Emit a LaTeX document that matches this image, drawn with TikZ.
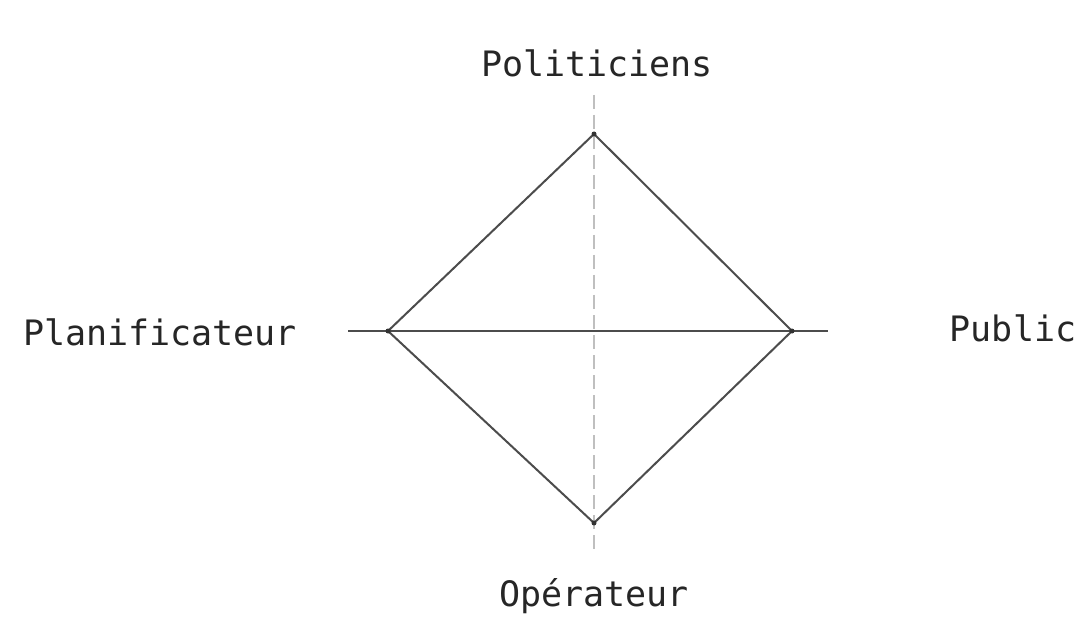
\documentclass[tikz,border=0pt]{standalone}
\usepackage{fontspec}
\setmonofont{DejaVu Sans Mono}
\begin{document}
\begin{tikzpicture}[x=1pt,y=-1pt,
  lbl/.style={font=\ttfamily\fontsize{35}{40}\selectfont, text=black!85, inner sep=0pt, anchor=base},
  edge/.style={draw=black!70, line width=2pt},
  axis/.style={draw=black!25, line width=1.4pt, dash pattern=on 14pt off 6pt}]
\useasboundingbox (0,0) rectangle (1083,617);
\fill[white] (0,0) rectangle (1083,617);
\coordinate (T) at (594,134);
\coordinate (B) at (594,523);
\coordinate (L) at (388,331);
\coordinate (R) at (792,331);
\coordinate (axT) at (594,95);
\coordinate (axB) at (594,552);
\coordinate (axL) at (348,331);
\coordinate (axR) at (828,331);
\node[lbl] (pol) at (597,77) {Politiciens};
\node[lbl] (pla) at (160,345) {Planificateur};
\node[lbl] (pub) at (1013,341) {Public};
\node[lbl] (ope) at (594,606) {Opérateur};
\draw[axis] (axT) -- (axB);
\draw[edge] (axL) -- (axR);
\draw[edge] (T) -- (R) -- (B) -- (L) -- cycle;
\fill[black!80] (T) circle (2.5pt) (B) circle (2.5pt) (L) circle (2.5pt) (R) circle (2.5pt);
\end{tikzpicture}
\end{document}
